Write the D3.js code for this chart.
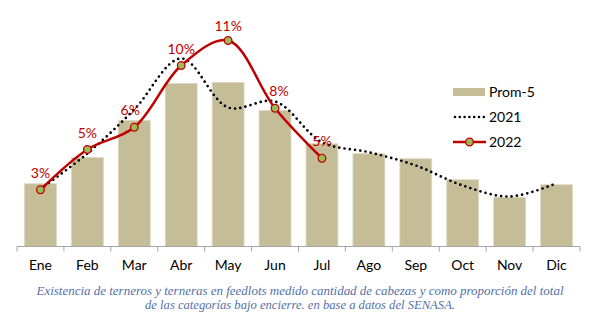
<!DOCTYPE html>
<html><head><meta charset="utf-8">
<script src="https://cdn.jsdelivr.net/npm/d3@7"></script>
<style>
html,body{margin:0;padding:0;background:#fff;}
svg{display:block;}
</style></head>
<body>
<svg id="chart" width="605" height="321"></svg>
<script>
// ---- data ----
const months = ["Ene","Feb","Mar","Abr","May","Jun","Jul","Ago","Sep","Oct","Nov","Dic"];
// miles de cabezas
const prom5 = [251, 356, 504, 652, 656, 544, 411, 371, 351, 267, 197, 247];
const y2021 = [230, 372, 548, 752, 556, 580, 417, 377, 324, 244, 200, 253];
const y2022 = [227, 388, 477, 724, 824, 553, 353];
const pct2022 = ["3%","5%","6%","10%","11%","8%","5%"];
const legendLabels = ["Prom-5","2021","2022"];
const caption = [
  "Existencia de terneros y terneras en feedlots medido cantidad de cabezas y como proporción del total",
  "de las categorías bajo encierre. en base a datos del SENASA."
];

// ---- layout ----
const svg = d3.select("#chart");
const x0 = 17, x1 = 580, baseY = 246.5;
const x = d3.scaleBand().domain(months).range([x0, x1]).paddingInner(0.32).paddingOuter(0.16);
const y = d3.scaleLinear().domain([0, 1000]).range([baseY, baseY - 250]);
const cx = m => x(m) + x.bandwidth() / 2;

const barColor = "#c4bd97", red = "#c00000", green = "#9bbb59";
const font = "Lato, 'Open Sans', sans-serif";

// bars
svg.append("g").selectAll("rect").data(prom5).join("rect")
  .attr("x", (d,i) => x(months[i]))
  .attr("y", d => y(d))
  .attr("width", x.bandwidth())
  .attr("height", d => baseY - y(d))
  .attr("fill", barColor)
  .attr("stroke", "#ddd8c2").attr("stroke-width", 0.8);

// axis
const axisScale = d3.scalePoint().domain(d3.range(13)).range([x0, x1]);
const ax = svg.append("g");
ax.append("line").attr("x1", x0).attr("x2", x1).attr("y1", baseY).attr("y2", baseY)
  .attr("stroke", "#a6a6a6").attr("stroke-width", 1);
ax.selectAll("line.t").data(d3.range(13)).join("line").attr("class","t")
  .attr("x1", d => axisScale(d)).attr("x2", d => axisScale(d))
  .attr("y1", baseY).attr("y2", baseY + 5)
  .attr("stroke", "#a6a6a6").attr("stroke-width", 1);
ax.selectAll("text").data(months).join("text")
  .attr("x", d => cx(d)).attr("y", 270)
  .attr("text-anchor", "middle")
  .attr("font-family", font).attr("font-size", 14).attr("fill", "#000")
  .text(d => d);

// 2021 dotted line
const smooth = d3.line().x((d,i) => cx(months[i])).y(d => y(d)).curve(d3.curveCatmullRom.alpha(0.5));
svg.append("path").datum(y2021).attr("d", smooth)
  .attr("fill", "none").attr("stroke", "#000").attr("stroke-width", 2.7)
  .attr("stroke-linecap", "round").attr("stroke-dasharray", "0 5.3");

// 2022 red line
svg.append("path").datum(y2022).attr("d", smooth)
  .attr("fill", "none").attr("stroke", red).attr("stroke-width", 2.5);
svg.append("g").selectAll("circle").data(y2022).join("circle")
  .attr("cx", (d,i) => cx(months[i])).attr("cy", d => y(d)).attr("r", 3.8)
  .attr("fill", green).attr("stroke", red).attr("stroke-width", 1.3);
const labelDx = [0, 0, -4, 0, 0, 4, 0];
svg.append("g").selectAll("text").data(y2022).join("text")
  .attr("x", (d,i) => cx(months[i]) + labelDx[i]).attr("y", d => Math.max(y(d) - 12, 31))
  .attr("text-anchor", "middle")
  .attr("font-family", font).attr("font-size", 14).attr("fill", red)
  .text((d,i) => pct2022[i]);

// legend
const lg = svg.append("g");
const ly = [92, 117, 142];
lg.append("rect").attr("x", 453).attr("y", ly[0] - 4).attr("width", 32).attr("height", 8).attr("fill", barColor);
lg.append("line").attr("x1", 455).attr("x2", 484).attr("y1", ly[1]).attr("y2", ly[1])
  .attr("stroke", "#000").attr("stroke-width", 2.6).attr("stroke-linecap", "round").attr("stroke-dasharray", "0 4.8");
lg.append("line").attr("x1", 453).attr("x2", 486).attr("y1", ly[2]).attr("y2", ly[2])
  .attr("stroke", red).attr("stroke-width", 2.5);
lg.append("circle").attr("cx", 469.5).attr("cy", ly[2]).attr("r", 3.8)
  .attr("fill", green).attr("stroke", red).attr("stroke-width", 1.3);
lg.selectAll("text").data(legendLabels).join("text")
  .attr("x", 489).attr("y", (d,i) => ly[i]).attr("dy", "0.36em")
  .attr("font-family", font).attr("font-size", 14).attr("fill", "#000")
  .text(d => d);

// caption
const capW = [527, 310];
svg.append("g").selectAll("text").data(caption).join("text")
  .attr("x", 300).attr("y", (d,i) => 294.5 + i * 14)
  .attr("text-anchor", "middle")
  .attr("font-family", "'Liberation Serif', 'DejaVu Serif', serif")
  .attr("font-style", "italic").attr("font-size", 13.5).attr("fill", "#5470a6")
  .attr("textLength", (d,i) => capW[i]).attr("lengthAdjust", "spacingAndGlyphs")
  .text(d => d);
</script>
</body></html>
